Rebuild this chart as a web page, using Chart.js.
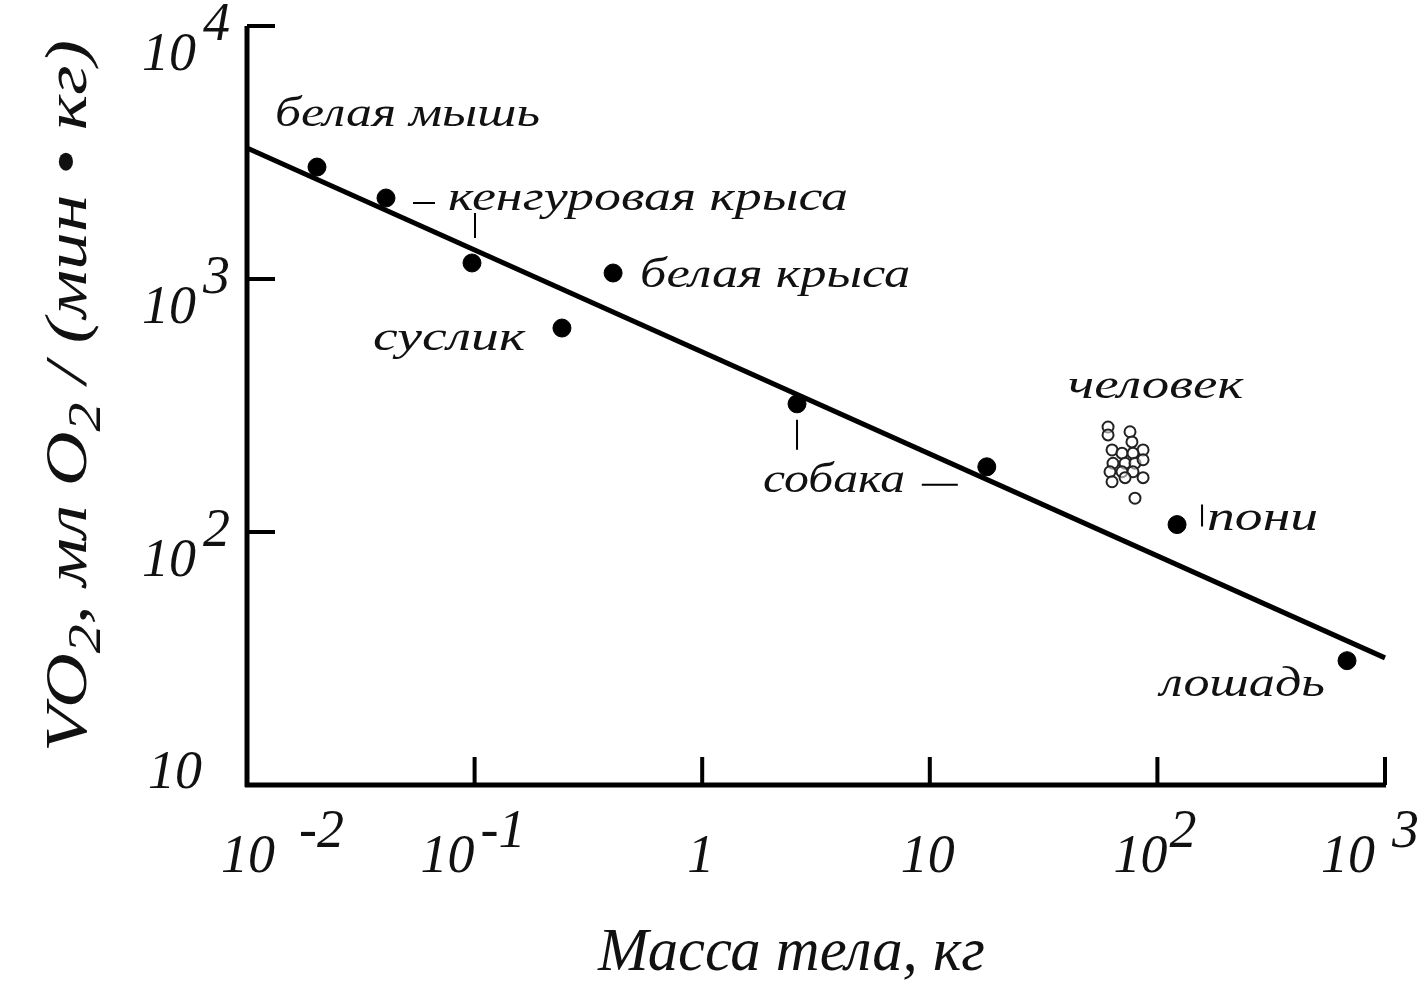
<!DOCTYPE html>
<html lang="ru">
<head>
<meta charset="UTF-8">
<title>VO2 / масса тела</title>
<script src="https://cdn.jsdelivr.net/npm/chart.js"></script>
<style>
    body { margin: 0; background: #fff; }
    .wrap { width: 1427px; height: 982px; position: relative; }
</style>
</head>
<body>
<div class="wrap"><canvas id="vo2Chart"></canvas></div>
<script>
// body mass (kg) and mass-specific VO2 (ml O2 / (min*kg))
var animalNames = ['белая мышь', 'кенгуровая крыса', 'кенгуровая крыса', 'суслик', 'белая крыса', 'собака', 'собака', 'пони', 'лошадь'];
var animalMass  = [0.0203, 0.0408, 0.0974, 0.242, 0.406, 2.61, 17.8, 122, 681];
var animalVO2   = [2770, 2090, 1157, 640, 1056, 321, 181, 107, 31];

// человек - cluster of open circles
var humanMass = [60.7, 60.7, 75.8, 77.3, 86.5, 63.2, 69.9, 78.1, 63.8, 72.1, 79.7, 86.5, 61.9, 69.9, 78.1, 86.5, 63.2, 72.1, 79.7];
var humanVO2  = [260, 242, 249, 227, 211, 211, 205, 205, 187, 187, 187, 193, 173, 173, 173, 164, 158, 164, 136];

// regression line end points
var fitMass = [0.01, 1000];
var fitVO2  = [3296, 31.8];

// axis ticks: base + superscript
var xTicks   = [0.01, 0.1, 1, 10, 100, 1000];
var xTickBase = ['10', '10', '1', '10', '10', '10'];
var xTickExp  = ['-2', '-1', '', '', '2', '3'];
var yTicks   = [10, 100, 1000, 10000];
var yTickBase = ['10', '10', '10', '10'];
var yTickExp  = ['', '2', '3', '4'];

var xTitle = 'Масса тела, кг';

// layout of the text (pixel offsets), kept apart from the data
var xLabelRight = [28, 0, 12, 25, 10, -10];
var xLabelGap   = [24, 6, 0, 0, 2, 17];
var notes = [
    { text: 'белая мышь', at: 0, dx: -42, dy: -41, w: 265 },
    { text: 'кенгуровая крыса', at: 1, dx: 62, dy: 12, w: 400 },
    { text: 'суслик', at: 3, dx: -189, dy: 22, w: 152 },
    { text: 'белая крыса', at: 4, dx: 27, dy: 14, w: 270 },
    { text: 'собака', at: 5, dx: -34, dy: 88, w: 142 },
    { text: 'пони', at: 7, dx: 30, dy: 5, w: 111 },
    { text: 'лошадь', at: 8, dx: -187, dy: 35, w: 165 }
];
// leader marks: [point index, x1, y1, x2, y2] offsets from the point
var leaders = [
    [1, 27, 5, 49, 5],
    [2, 3, -50, 3, -25],
    [5, 0, 16, 0, 46],
    [6, -65, 18, -29, 18],
    [7, 25, -20, 25, 2]
];

var SERIF = '"Liberation Serif", "DejaVu Serif", serif';

function pts(xs, ys) {
    return xs.map(function (x, i) { return { x: x, y: ys[i] }; });
}

function fitText(ctx, str, x, y, font, w) {
    ctx.font = font;
    var m = ctx.measureText(str).width;
    ctx.save();
    ctx.translate(x, y);
    ctx.scale(w ? w / m : 1, 1);
    ctx.fillText(str, 0, 0);
    ctx.restore();
}

var decorPlugin = {
    id: 'decor',
    afterDatasetsDraw: function (chart) {
        var ctx = chart.ctx;
        var xs = chart.scales.x, ys = chart.scales.y;
        var a = chart.chartArea;
        ctx.save();
        ctx.fillStyle = '#111';
        ctx.strokeStyle = '#000';
        ctx.textAlign = 'left';
        ctx.textBaseline = 'alphabetic';

        // axis lines
        ctx.lineCap = 'butt';
        ctx.lineWidth = 5;
        ctx.beginPath();
        ctx.moveTo(a.left, a.top);
        ctx.lineTo(a.left, a.bottom + 2);
        ctx.moveTo(a.left - 2, a.bottom);
        ctx.lineTo(a.right + 1, a.bottom);
        ctx.stroke();

        // inward ticks
        ctx.lineWidth = 4;
        ctx.beginPath();
        yTicks.forEach(function (v) {
            if (v === ys.min) return;
            var py = ys.getPixelForValue(v);
            ctx.moveTo(a.left, py);
            ctx.lineTo(a.left + 28, py);
        });
        xTicks.forEach(function (v) {
            if (v === xs.min) return;
            var px = xs.getPixelForValue(v);
            ctx.moveTo(px, a.bottom);
            ctx.lineTo(px, a.bottom - 28);
        });
        ctx.stroke();

        // tick labels
        var tickFont = 'italic 54px ' + SERIF;
        ctx.font = tickFont;
        yTicks.forEach(function (v, i) {
            var py = ys.getPixelForValue(v);
            var base = yTickBase[i];
            var bw = ctx.measureText(base).width;
            if (yTickExp[i]) {
                ctx.fillText(base, a.left - 51 - bw, py + 44);
                ctx.fillText(yTickExp[i], a.left - 44, py + 14);
            } else {
                ctx.fillText(base, a.left - 45 - bw, py + 3);
            }
        });
        xTicks.forEach(function (v, i) {
            var px = xs.getPixelForValue(v);
            var base = xTickBase[i];
            var bw = ctx.measureText(base).width;
            var right = px + xLabelRight[i];
            ctx.fillText(base, right - bw, a.bottom + 87);
            if (xTickExp[i]) {
                ctx.fillText(xTickExp[i], right + xLabelGap[i], a.bottom + 62);
            }
        });

        // axis titles
        fitText(ctx, xTitle, 598, 970, 'italic 62px ' + SERIF, 387);

        ctx.save();
        ctx.translate(86, 752);
        ctx.rotate(-Math.PI / 2);
        var big = 'italic 60px ' + SERIF, sub = 'italic 46px ' + SERIF;
        var segs = [['VO', big, 0], ['2', sub, 14], [', мл O', big, 0], ['2', sub, 14], [' / (мин • кг)', big, 0]];
        var total = 0;
        segs.forEach(function (s) { ctx.font = s[1]; total += ctx.measureText(s[0]).width; });
        ctx.scale(712 / total, 1);
        var cx = 0;
        segs.forEach(function (s) {
            ctx.font = s[1];
            ctx.fillText(s[0], cx, s[2]);
            cx += ctx.measureText(s[0]).width;
        });
        ctx.restore();

        // animal labels
        var noteFont = 'italic 42px ' + SERIF;
        notes.forEach(function (n) {
            var px = xs.getPixelForValue(animalMass[n.at]);
            var py = ys.getPixelForValue(animalVO2[n.at]);
            fitText(ctx, n.text, px + n.dx, py + n.dy, noteFont, n.w);
        });
        // человек label over the cluster
        var hx = xs.getPixelForValue(humanMass[0]);
        var hy = ys.getPixelForValue(humanVO2[0]);
        fitText(ctx, 'человек', hx - 40, hy - 29, noteFont, 175);

        // leader marks
        ctx.lineWidth = 2;
        ctx.beginPath();
        leaders.forEach(function (l) {
            var px = xs.getPixelForValue(animalMass[l[0]]);
            var py = ys.getPixelForValue(animalVO2[l[0]]);
            ctx.moveTo(px + l[1], py + l[2]);
            ctx.lineTo(px + l[3], py + l[4]);
        });
        ctx.stroke();
        ctx.restore();
    }
};

var ctx = document.getElementById('vo2Chart').getContext('2d');
var vo2Chart = new Chart(ctx, {
    type: 'scatter',
    data: {
        datasets: [
            {
                type: 'line',
                label: 'fit',
                data: pts(fitMass, fitVO2),
                borderColor: '#000',
                borderWidth: 5,
                pointRadius: 0,
                fill: false,
                clip: false
            },
            {
                label: 'животные',
                data: pts(animalMass, animalVO2),
                backgroundColor: '#000',
                borderColor: '#000',
                pointRadius: 9,
                clip: false
            },
            {
                label: 'человек',
                data: pts(humanMass, humanVO2),
                backgroundColor: 'rgba(255,255,255,0.5)',
                borderColor: '#222',
                borderWidth: 2,
                pointRadius: 5.5,
                clip: false
            }
        ]
    },
    options: {
        responsive: true,
        maintainAspectRatio: false,
        animation: false,
        devicePixelRatio: 1,
        layout: { padding: { left: 247, right: 42, top: 26, bottom: 197 } },
        plugins: { legend: { display: false }, tooltip: { enabled: false } },
        scales: {
            x: { type: 'logarithmic', min: 0.01, max: 1000, display: false },
            y: { type: 'logarithmic', min: 10, max: 10000, display: false }
        }
    },
    plugins: [decorPlugin]
});
</script>
</body>
</html>
